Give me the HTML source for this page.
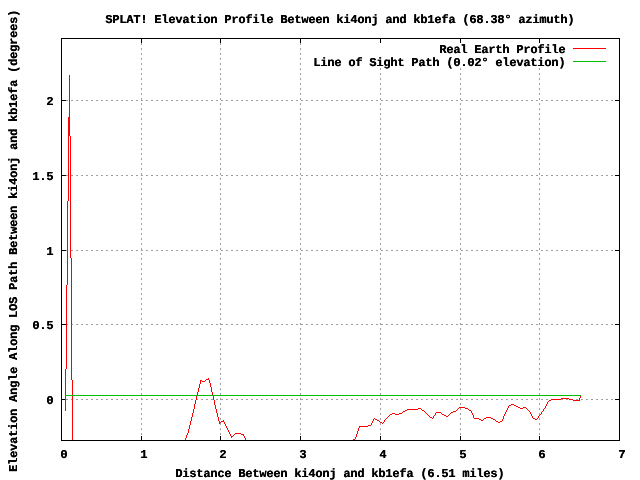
<!DOCTYPE html>
<html><head><meta charset="utf-8"><title>SPLAT! Elevation Profile</title>
<style>
html,body{margin:0;padding:0;background:#fff;width:640px;height:480px;overflow:hidden;}
#c{position:absolute;left:0;top:0;width:640px;height:480px;overflow:hidden;background:#fff;}
.t{position:absolute;font-family:"Liberation Mono",monospace;font-weight:bold;font-size:12.0px;line-height:16px;height:16px;white-space:pre;color:#000;letter-spacing:-0.2012px;text-rendering:geometricPrecision;will-change:transform;text-shadow:0.3px 0 0 #000;margin-left:-2px;padding-left:1.25px;}
</style></head><body><div id="c">
<svg width="640" height="480" viewBox="0 0 640 480" shape-rendering="crispEdges" style="position:absolute;left:0;top:0">
<g stroke="#a0a0a0" stroke-width="1" stroke-dasharray="2 3" fill="none"><line x1="141.5" y1="440" x2="141.5" y2="39"/><line x1="220.5" y1="440" x2="220.5" y2="39"/><line x1="300.5" y1="440" x2="300.5" y2="39"/><line x1="380.5" y1="440" x2="380.5" y2="39"/><line x1="460.5" y1="440" x2="460.5" y2="39"/><line x1="539.5" y1="440" x2="539.5" y2="39"/><line x1="61" y1="399.5" x2="619" y2="399.5"/><line x1="61" y1="324.5" x2="619" y2="324.5"/><line x1="61" y1="250.5" x2="619" y2="250.5"/><line x1="61" y1="175.5" x2="619" y2="175.5"/><line x1="61" y1="100.5" x2="619" y2="100.5"/></g>
<g fill="#000"><rect x="141" y="436" width="1" height="4"/><rect x="141" y="39" width="1" height="4"/><rect x="220" y="436" width="1" height="4"/><rect x="220" y="39" width="1" height="4"/><rect x="300" y="436" width="1" height="4"/><rect x="300" y="39" width="1" height="4"/><rect x="380" y="436" width="1" height="4"/><rect x="380" y="39" width="1" height="4"/><rect x="460" y="436" width="1" height="4"/><rect x="460" y="39" width="1" height="4"/><rect x="539" y="436" width="1" height="4"/><rect x="539" y="39" width="1" height="4"/><rect x="62" y="399" width="4" height="1"/><rect x="615" y="399" width="4" height="1"/><rect x="62" y="324" width="4" height="1"/><rect x="615" y="324" width="4" height="1"/><rect x="62" y="250" width="4" height="1"/><rect x="615" y="250" width="4" height="1"/><rect x="62" y="175" width="4" height="1"/><rect x="615" y="175" width="4" height="1"/><rect x="62" y="100" width="4" height="1"/><rect x="615" y="100" width="4" height="1"/></g>
</svg>
<div style="position:absolute;left:310px;top:43px;width:302px;height:25px;background:#fff"></div>
<svg width="640" height="480" viewBox="0 0 640 480" shape-rendering="crispEdges" style="position:absolute;left:0;top:0">
<rect x="573" y="48" width="33" height="1" fill="#ff0000"/>
<rect x="573" y="61" width="33" height="1" fill="#00c000"/>
<g fill="#ff0000"><rect x="65" y="369" width="1" height="42"/><rect x="66" y="285" width="1" height="84"/><rect x="67" y="201" width="1" height="84"/><rect x="68" y="117" width="1" height="84"/><rect x="69" y="75" width="1" height="61"/><rect x="70" y="136" width="1" height="122"/><rect x="71" y="258" width="1" height="122"/><rect x="72" y="380" width="1" height="61"/></g>
<g fill="#ff0000"><rect x="185" y="438" width="1" height="2"/><rect x="186" y="435" width="1" height="3"/><rect x="187" y="433" width="1" height="2"/><rect x="188" y="429" width="1" height="4"/><rect x="189" y="425" width="1" height="4"/><rect x="190" y="421" width="1" height="4"/><rect x="191" y="417" width="1" height="4"/><rect x="192" y="413" width="1" height="4"/><rect x="193" y="409" width="1" height="4"/><rect x="194" y="404" width="1" height="5"/><rect x="195" y="400" width="1" height="4"/><rect x="196" y="396" width="1" height="4"/><rect x="197" y="392" width="1" height="4"/><rect x="198" y="388" width="1" height="4"/><rect x="199" y="384" width="1" height="4"/><rect x="200" y="380" width="1" height="4"/><rect x="201" y="380" width="1" height="1"/><rect x="202" y="381" width="3" height="1"/><rect x="205" y="380" width="1" height="1"/><rect x="206" y="379" width="3" height="1"/><rect x="208" y="378" width="1" height="1"/><rect x="209" y="380" width="1" height="3"/><rect x="210" y="383" width="1" height="4"/><rect x="211" y="387" width="1" height="5"/><rect x="212" y="392" width="1" height="4"/><rect x="213" y="396" width="1" height="4"/><rect x="214" y="400" width="1" height="5"/><rect x="215" y="405" width="1" height="4"/><rect x="216" y="409" width="1" height="4"/><rect x="217" y="413" width="1" height="4"/><rect x="218" y="417" width="1" height="4"/><rect x="219" y="421" width="1" height="3"/><rect x="220" y="422" width="1" height="1"/><rect x="221" y="421" width="3" height="1"/><rect x="223" y="420" width="1" height="1"/><rect x="224" y="422" width="1" height="2"/><rect x="225" y="424" width="1" height="2"/><rect x="226" y="426" width="1" height="2"/><rect x="227" y="428" width="1" height="2"/><rect x="228" y="430" width="1" height="2"/><rect x="229" y="432" width="1" height="2"/><rect x="230" y="434" width="1" height="2"/><rect x="231" y="436" width="1" height="2"/><rect x="232" y="436" width="1" height="1"/><rect x="233" y="435" width="1" height="1"/><rect x="234" y="434" width="1" height="1"/><rect x="235" y="433" width="6" height="1"/><rect x="241" y="434" width="3" height="1"/><rect x="243" y="435" width="1" height="1"/><rect x="244" y="436" width="1" height="2"/><rect x="245" y="438" width="1" height="2"/><rect x="353" y="439" width="2" height="1"/><rect x="355" y="437" width="1" height="2"/><rect x="356" y="434" width="1" height="3"/><rect x="357" y="431" width="1" height="3"/><rect x="358" y="428" width="1" height="3"/><rect x="359" y="426" width="9" height="1"/><rect x="359" y="427" width="1" height="1"/><rect x="368" y="425" width="3" height="1"/><rect x="371" y="423" width="1" height="2"/><rect x="372" y="421" width="1" height="2"/><rect x="373" y="419" width="1" height="2"/><rect x="374" y="418" width="1" height="1"/><rect x="375" y="419" width="2" height="1"/><rect x="377" y="420" width="2" height="1"/><rect x="379" y="421" width="1" height="1"/><rect x="380" y="422" width="2" height="1"/><rect x="382" y="423" width="1" height="1"/><rect x="383" y="422" width="1" height="1"/><rect x="384" y="420" width="1" height="2"/><rect x="385" y="419" width="1" height="1"/><rect x="386" y="418" width="1" height="1"/><rect x="387" y="417" width="1" height="1"/><rect x="388" y="416" width="1" height="1"/><rect x="389" y="415" width="1" height="1"/><rect x="390" y="414" width="2" height="1"/><rect x="392" y="413" width="3" height="1"/><rect x="395" y="414" width="4" height="1"/><rect x="399" y="413" width="3" height="1"/><rect x="402" y="412" width="1" height="1"/><rect x="403" y="411" width="2" height="1"/><rect x="405" y="410" width="2" height="1"/><rect x="407" y="409" width="11" height="1"/><rect x="418" y="408" width="3" height="1"/><rect x="421" y="409" width="1" height="1"/><rect x="422" y="410" width="2" height="1"/><rect x="424" y="411" width="1" height="1"/><rect x="425" y="412" width="1" height="1"/><rect x="426" y="413" width="1" height="1"/><rect x="427" y="414" width="1" height="1"/><rect x="428" y="415" width="1" height="1"/><rect x="429" y="416" width="1" height="1"/><rect x="430" y="417" width="2" height="1"/><rect x="432" y="418" width="1" height="1"/><rect x="433" y="416" width="1" height="2"/><rect x="434" y="415" width="1" height="1"/><rect x="435" y="413" width="1" height="2"/><rect x="436" y="412" width="5" height="1"/><rect x="441" y="413" width="1" height="1"/><rect x="442" y="414" width="2" height="1"/><rect x="444" y="415" width="2" height="1"/><rect x="446" y="416" width="2" height="1"/><rect x="448" y="415" width="1" height="1"/><rect x="449" y="414" width="1" height="1"/><rect x="450" y="413" width="1" height="1"/><rect x="451" y="412" width="2" height="1"/><rect x="453" y="411" width="3" height="1"/><rect x="456" y="410" width="1" height="1"/><rect x="457" y="409" width="1" height="1"/><rect x="458" y="408" width="1" height="1"/><rect x="459" y="407" width="6" height="1"/><rect x="465" y="408" width="3" height="1"/><rect x="468" y="409" width="1" height="1"/><rect x="469" y="410" width="2" height="1"/><rect x="471" y="411" width="1" height="2"/><rect x="472" y="413" width="1" height="2"/><rect x="473" y="415" width="1" height="3"/><rect x="474" y="418" width="5" height="1"/><rect x="479" y="419" width="2" height="1"/><rect x="481" y="420" width="2" height="1"/><rect x="483" y="419" width="1" height="1"/><rect x="484" y="418" width="2" height="1"/><rect x="486" y="417" width="5" height="1"/><rect x="491" y="418" width="2" height="1"/><rect x="493" y="419" width="2" height="1"/><rect x="495" y="420" width="1" height="1"/><rect x="496" y="421" width="2" height="1"/><rect x="498" y="422" width="2" height="1"/><rect x="500" y="421" width="2" height="1"/><rect x="502" y="419" width="1" height="2"/><rect x="503" y="416" width="1" height="3"/><rect x="504" y="414" width="1" height="2"/><rect x="505" y="412" width="1" height="2"/><rect x="506" y="410" width="1" height="2"/><rect x="507" y="408" width="1" height="2"/><rect x="508" y="406" width="1" height="2"/><rect x="509" y="405" width="2" height="1"/><rect x="511" y="404" width="3" height="1"/><rect x="514" y="405" width="2" height="1"/><rect x="516" y="406" width="2" height="1"/><rect x="518" y="407" width="2" height="1"/><rect x="520" y="408" width="3" height="1"/><rect x="523" y="407" width="3" height="1"/><rect x="526" y="408" width="1" height="1"/><rect x="527" y="409" width="1" height="1"/><rect x="528" y="410" width="1" height="1"/><rect x="529" y="411" width="1" height="1"/><rect x="530" y="412" width="1" height="2"/><rect x="531" y="414" width="1" height="2"/><rect x="532" y="416" width="1" height="2"/><rect x="533" y="418" width="2" height="1"/><rect x="535" y="419" width="2" height="1"/><rect x="537" y="418" width="1" height="1"/><rect x="538" y="416" width="1" height="2"/><rect x="539" y="415" width="1" height="1"/><rect x="540" y="414" width="1" height="1"/><rect x="541" y="412" width="1" height="2"/><rect x="542" y="411" width="1" height="1"/><rect x="543" y="409" width="1" height="2"/><rect x="544" y="408" width="1" height="1"/><rect x="545" y="406" width="1" height="2"/><rect x="546" y="404" width="1" height="2"/><rect x="547" y="402" width="1" height="2"/><rect x="548" y="401" width="1" height="1"/><rect x="549" y="400" width="2" height="1"/><rect x="551" y="399" width="10" height="1"/><rect x="561" y="398" width="8" height="1"/><rect x="569" y="399" width="4" height="1"/><rect x="573" y="400" width="7" height="1"/><rect x="579" y="398" width="1" height="2"/><rect x="580" y="396" width="1" height="2"/></g>
<rect x="65" y="395" width="516" height="1" fill="#00c000"/>
<rect x="61.5" y="38.5" width="558" height="402" fill="none" stroke="#000" stroke-width="1"/>
</svg>
<div class="t" style="left:106px;top:12px;">SPLAT! Elevation Profile Between ki4onj and kb1efa (68.38° azimuth)</div>
<div class="t" style="left:176px;top:466px;">Distance Between ki4onj and kb1efa (6.51 miles)</div>
<div class="t" style="left:61px;top:447px;">0</div>
<div class="t" style="left:141px;top:447px;">1</div>
<div class="t" style="left:220px;top:447px;">2</div>
<div class="t" style="left:300px;top:447px;">3</div>
<div class="t" style="left:380px;top:447px;">4</div>
<div class="t" style="left:460px;top:447px;">5</div>
<div class="t" style="left:539px;top:447px;">6</div>
<div class="t" style="left:619px;top:447px;">7</div>
<div class="t" style="left:47px;top:393px;">0</div>
<div class="t" style="left:33px;top:318px;">0.5</div>
<div class="t" style="left:47px;top:244px;">1</div>
<div class="t" style="left:33px;top:169px;">1.5</div>
<div class="t" style="left:47px;top:94px;">2</div>
<div class="t" style="left:440px;top:42px;">Real Earth Profile</div>
<div class="t" style="left:314px;top:55px;">Line of Sight Path (0.02° elevation)</div>
<div class="t" style="left:6.399999999999999px;top:472.4px;margin-left:0;padding-left:0;transform:rotate(-90deg);transform-origin:0 0;">Elevation Angle Along LOS Path Between ki4onj and kb1efa (degrees)</div>
</div></body></html>
